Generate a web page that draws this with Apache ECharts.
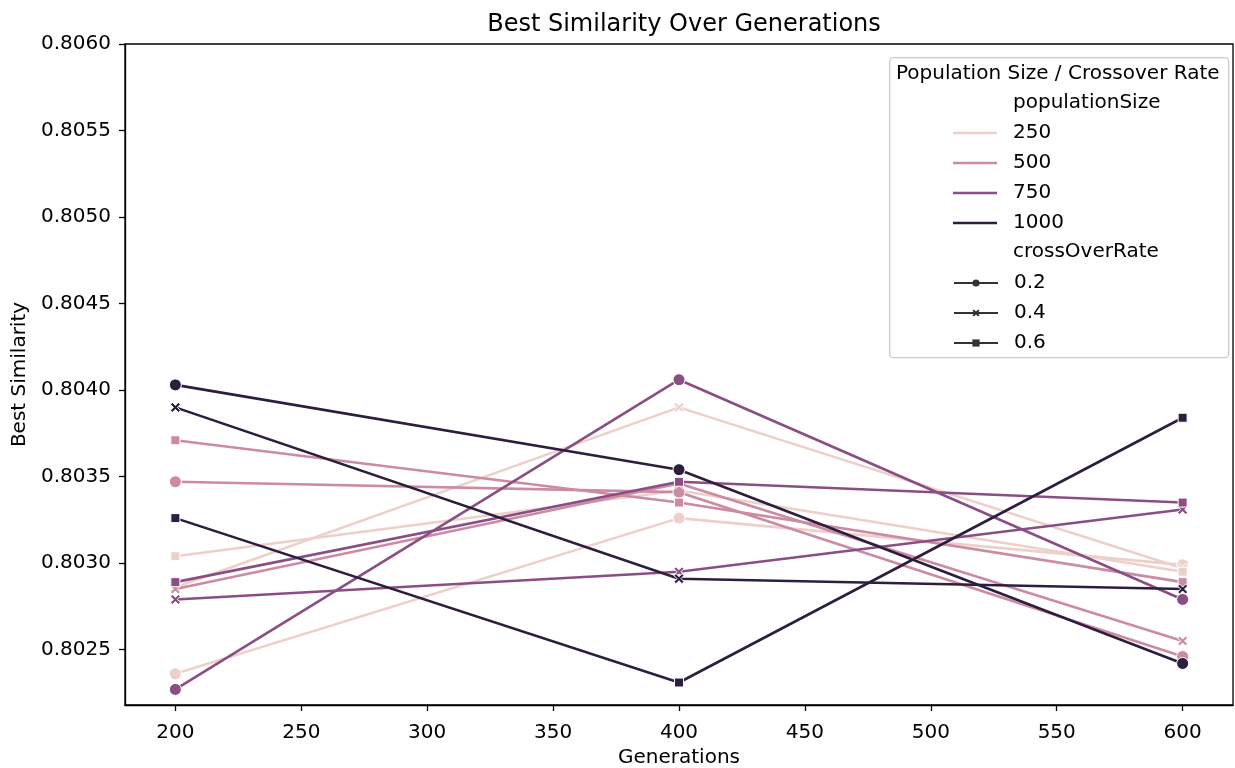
<!DOCTYPE html>
<html>
<head>
<meta charset="utf-8">
<title>Best Similarity Over Generations</title>
<script src="https://cdn.jsdelivr.net/npm/echarts@6/dist/echarts.min.js"></script>
<style>
  html, body { margin: 0; padding: 0; background: #fff; }
  #chart { width: 1235px; height: 768px; }
</style>
</head>
<body>
<div id="chart"></div>
<script>
// x values and tick labels
const generations = [200, 400, 600];
const xTicks = [200, 250, 300, 350, 400, 450, 500, 550, 600];
const yTicks = [0.8025, 0.803, 0.8035, 0.804, 0.8045, 0.805, 0.8055, 0.806];

const popSizes = ['250', '500', '750', '1000'];
const crossRates = ['0.2', '0.4', '0.6'];

// best similarity, one array per (populationSize, crossOverRate)
const pop250_r02 = [0.80236, 0.80326, 0.80299];
const pop250_r04 = [0.80286, 0.80390, 0.80297];
const pop250_r06 = [0.80304, 0.80342, 0.80295];
const pop500_r02 = [0.80347, 0.80341, 0.80246];
const pop500_r04 = [0.80285, 0.80346, 0.80255];
const pop500_r06 = [0.80371, 0.80335, 0.80289];
const pop750_r02 = [0.80227, 0.80406, 0.80279];
const pop750_r04 = [0.80279, 0.80295, 0.80331];
const pop750_r06 = [0.80289, 0.80347, 0.80335];
const pop1000_r02 = [0.80403, 0.80354, 0.80242];
const pop1000_r04 = [0.80390, 0.80291, 0.80285];
const pop1000_r06 = [0.80326, 0.80231, 0.80384];

const values = {
  '250': [pop250_r02, pop250_r04, pop250_r06],
  '500': [pop500_r02, pop500_r04, pop500_r06],
  '750': [pop750_r02, pop750_r04, pop750_r06],
  '1000': [pop1000_r02, pop1000_r04, pop1000_r06],
}

const hueColors = ['#ecd0c9', '#cc8ba2', '#8b4e84', '#2d1e3e']
const xMark = 'path://M0,2 L2,0 L5,3 L8,0 L10,2 L7,5 L10,8 L8,10 L5,7 L2,10 L0,8 L3,5 Z'
const lineIcon = 'path://M0,0 L44,0 L44,2.4 L0,2.4 Z'
const markers = ['circle', xMark, 'rect']
const markerSizes = [12, 10, 9]

const font = 'DejaVu Sans, sans-serif'

const chart = echarts.init(document.getElementById('chart'))

const series = []
popSizes.forEach((p, i) => {
  crossRates.forEach((r, j) => {
    series.push({
      name: p + ' / ' + r,
      type: 'line',
      data: generations.map((g, k) => [g, values[p][j][k]]),
      symbol: markers[j],
      symbolSize: markerSizes[j],
      showSymbol: true,
      lineStyle: { color: hueColors[i], width: 2.6 },
      itemStyle: { color: hueColors[i], borderColor: '#fff', borderWidth: 1 },
      emphasis: { disabled: true },
      z: 2 + i,
    })
  })
})

// legend-only series
popSizes.forEach((p, i) => {
  series.push({
    name: p,
    type: 'line',
    data: [],
    symbol: 'none',
    lineStyle: { color: hueColors[i], width: 2.6 },
    itemStyle: { color: hueColors[i] },
  })
})
crossRates.forEach((r, j) => {
  series.push({
    name: r,
    type: 'line',
    data: [],
    symbol: markers[j],
    lineStyle: { color: '#333', width: 2.6 },
    itemStyle: { color: '#333' },
  })
})

const legendText = { fontFamily: font, fontSize: 20, color: '#000', padding: [0, 0, 0, 11] }

const option = {
  animation: false,
  textStyle: { fontFamily: font },
  title: {
    text: 'Best Similarity Over Generations',
    left: 679,
    top: 8,
    textAlign: 'center',
    textStyle: { fontFamily: font, fontSize: 24, fontWeight: 'normal', color: '#000' },
  },
  grid: {
    left: 125,
    right: 2,
    top: 44,
    bottom: 63,
    outerBoundsMode: 'none',
    show: true,
    borderColor: '#000',
    borderWidth: 1.3,
  },
  xAxis: {
    type: 'value',
    min: 180,
    max: 620,
    name: 'Generations',
    nameLocation: 'middle',
    nameGap: 42,
    nameTextStyle: { fontFamily: font, fontSize: 20, color: '#000' },
    axisLine: { show: true, lineStyle: { color: '#000', width: 1.3 } },
    axisTick: { show: true, length: 6, lineStyle: { color: '#000', width: 1.3 }, customValues: xTicks },
    axisLabel: { fontSize: 20, color: '#000', margin: 18, customValues: xTicks },
    splitLine: { show: false },
  },
  yAxis: {
    type: 'value',
    min: 0.80218,
    max: 0.806,
    name: 'Best Similarity',
    nameLocation: 'middle',
    nameGap: 93,
    nameTextStyle: { fontFamily: font, fontSize: 20, color: '#000' },
    axisLine: { show: true, lineStyle: { color: '#000', width: 1.3 } },
    axisTick: { show: true, length: 6, lineStyle: { color: '#000', width: 1.3 }, customValues: yTicks },
    axisLabel: {
      fontSize: 20,
      color: '#000',
      margin: 14,
      customValues: yTicks,
      formatter: (v) => v.toFixed(4),
    },
    splitLine: { show: false },
  },
  legend: [
    {
      data: popSizes.map((p) => ({ name: p, icon: lineIcon })),
      orient: 'vertical',
      left: 953,
      top: 123,
      padding: 0,
      itemWidth: 44,
      itemHeight: 14,
      itemGap: 10,
      selectedMode: false,
      textStyle: legendText,
    },
    {
      data: crossRates,
      orient: 'vertical',
      left: 953,
      top: 273,
      padding: 0,
      itemWidth: 44,
      itemHeight: 9,
      itemGap: 10,
      selectedMode: false,
      textStyle: legendText,
    },
  ],
  graphic: [
    {
      type: 'rect',
      left: 889,
      top: 57,
      shape: { width: 339, height: 300, r: 4 },
      style: { fill: 'rgba(255,255,255,0.8)', stroke: '#cccccc', lineWidth: 1.3 },
      z: 1,
    },
    {
      type: 'text',
      left: 896,
      top: 64,
      style: { text: 'Population Size / Crossover Rate', font: '20px ' + font, fill: '#000' },
      z: 5,
    },
    {
      type: 'text',
      left: 1013,
      top: 93,
      style: { text: 'populationSize', font: '20px ' + font, fill: '#000' },
      z: 5,
    },
    {
      type: 'text',
      left: 1013,
      top: 242,
      style: { text: 'crossOverRate', font: '20px ' + font, fill: '#000' },
      z: 5,
    },
  ],
  series: series,
}

chart.setOption(option)
</script>
</body>
</html>
